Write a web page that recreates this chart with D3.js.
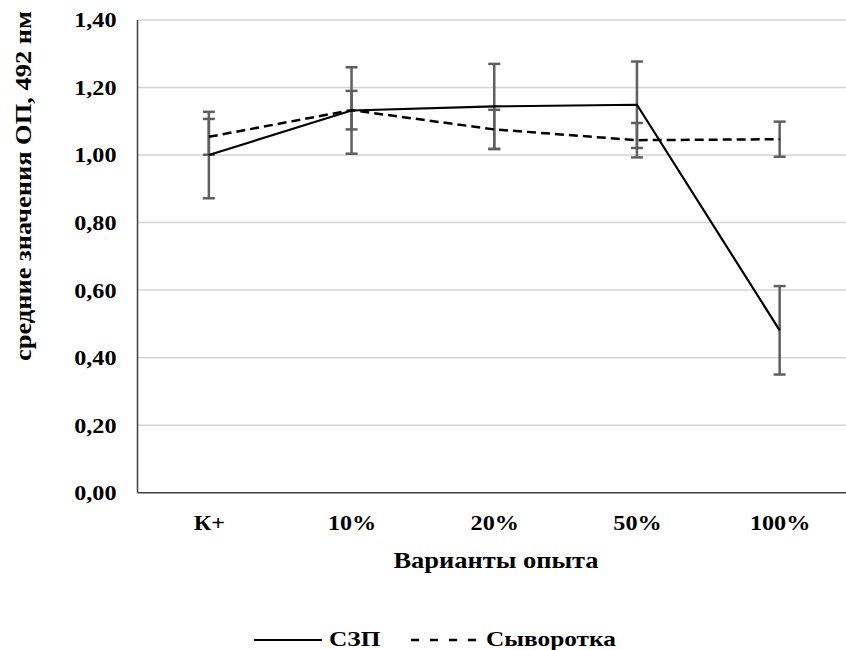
<!DOCTYPE html>
<html>
<head>
<meta charset="utf-8">
<script src="https://cdn.jsdelivr.net/npm/d3@7"></script>
<style>
  body { margin: 0; background: #fff; }
  text { font-family: "Times New Roman", "Liberation Serif", serif; font-weight: bold; fill: #000; }
</style>
</head>
<body>
<script>
var categories = ['К+', '10%', '20%', '50%', '100%'];
var szpValues = [1.000, 1.132, 1.144, 1.149, 0.481];
var szpErrors = [0.128, 0.128, 0.126, 0.128, 0.131];
var serumValues = [1.054, 1.133, 1.076, 1.044, 1.047];
var serumErrors = [0.053, 0.057, 0.058, 0.051, 0.052];
var yTicks = [0, 0.2, 0.4, 0.6, 0.8, 1.0, 1.2, 1.4];

var canvasWidth = 846;
var canvasHeight = 650;
var plotLeft = 137.5, plotRight = 851, plotTop = 20, plotBottom = 492.7;
var stretch = 1.15; // the reference text is a bit wider than Liberation Serif

var svg = d3.select('body')
    .append('svg')
    .attr('width', canvasWidth)
    .attr('height', canvasHeight);

var xScale = d3.scalePoint()
    .domain(categories)
    .range([plotLeft, plotRight])
    .padding(0.5);

var yScale = d3.scaleLinear()
    .domain([0, 1.4])
    .range([plotBottom, plotTop]);

var fmt = function (d) { return d3.format('.2f')(d).replace('.', ','); };

// gridlines
svg.append('g')
    .selectAll('line')
    .data(yTicks.filter(function (d) { return d > 0; }))
    .enter()
    .append('line')
    .attr('x1', plotLeft)
    .attr('x2', canvasWidth)
    .attr('y1', function (d) { return yScale(d); })
    .attr('y2', function (d) { return yScale(d); })
    .attr('stroke', '#d4d4d4')
    .attr('stroke-width', 1.5);

// y axis labels
var yAxis = svg.append('g')
    .attr('transform', 'translate(' + (plotLeft - 21) + ',0)')
    .call(d3.axisLeft(yScale).tickValues(yTicks).tickFormat(fmt).tickSize(0).tickPadding(0));
yAxis.select('.domain').remove();
yAxis.selectAll('text')
    .attr('font-size', '21px')
    .attr('font-family', '"Times New Roman", "Liberation Serif", serif')
    .attr('fill', '#000')
    .attr('dy', '0.33em');

// x axis labels
var xAxis = svg.append('g')
    .attr('transform', 'translate(0,' + plotBottom + ')')
    .call(d3.axisBottom(xScale).tickSize(0).tickPadding(0));
xAxis.select('.domain').remove();
xAxis.selectAll('text')
    .attr('font-size', '21px')
    .attr('font-family', '"Times New Roman", "Liberation Serif", serif')
    .attr('fill', '#000')
    .attr('dy', null)
    .attr('y', 37);

// axis lines
svg.append('line')
    .attr('x1', plotLeft).attr('x2', plotLeft)
    .attr('y1', plotTop).attr('y2', plotBottom)
    .attr('stroke', '#404040').attr('stroke-width', 1.5);
svg.append('line')
    .attr('x1', plotLeft).attr('x2', canvasWidth)
    .attr('y1', plotBottom).attr('y2', plotBottom)
    .attr('stroke', '#404040').attr('stroke-width', 1.5);

// error bars
function errorBars(values, errors) {
    var g = svg.append('g').attr('stroke', '#5f5f5f').attr('stroke-width', 2.5);
    categories.forEach(function (c, i) {
        var x = xScale(c);
        var y1 = yScale(values[i] + errors[i]);
        var y2 = yScale(values[i] - errors[i]);
        g.append('line').attr('x1', x).attr('x2', x).attr('y1', y1).attr('y2', y2);
        g.append('line').attr('x1', x - 6).attr('x2', x + 6).attr('y1', y1).attr('y2', y1);
        g.append('line').attr('x1', x - 6).attr('x2', x + 6).attr('y1', y2).attr('y2', y2);
    });
}
errorBars(szpValues, szpErrors);
errorBars(serumValues, serumErrors);

var line = d3.line()
    .x(function (d, i) { return xScale(categories[i]); })
    .y(function (d) { return yScale(d); });

svg.append('path')
    .datum(serumValues)
    .attr('fill', 'none')
    .attr('stroke', '#000')
    .attr('stroke-width', 2.5)
    .attr('stroke-dasharray', '9,5')
    .attr('d', line);

svg.append('path')
    .datum(szpValues)
    .attr('fill', 'none')
    .attr('stroke', '#000')
    .attr('stroke-width', 2.2)
    .attr('d', line);

// axis titles
svg.append('text')
    .attr('x', 496)
    .attr('y', 568)
    .attr('text-anchor', 'middle')
    .attr('font-size', '23px')
    .text('Варианты опыта');

svg.append('text')
    .attr('transform', 'translate(31,186) rotate(-90)')
    .attr('text-anchor', 'middle')
    .attr('font-size', '23px')
    .text('средние значения ОП, 492 нм');

// legend
var legend = svg.append('g');
legend.append('line')
    .attr('x1', 254).attr('x2', 322)
    .attr('y1', 640).attr('y2', 640)
    .attr('stroke', '#000').attr('stroke-width', 2.2);
legend.append('text')
    .attr('x', 329).attr('y', 646)
    .attr('font-size', '22px')
    .text('СЗП');
legend.append('line')
    .attr('x1', 411).attr('x2', 476)
    .attr('y1', 640).attr('y2', 640)
    .attr('stroke', '#000').attr('stroke-width', 2.5)
    .attr('stroke-dasharray', '8,11');
legend.append('text')
    .attr('x', 486).attr('y', 646)
    .attr('font-size', '22px')
    .text('Сыворотка');

// widen every label a little to match the reference glyph proportions
svg.selectAll('text').each(function () {
    var len = this.getComputedTextLength();
    d3.select(this)
        .attr('textLength', len * stretch)
        .attr('lengthAdjust', 'spacingAndGlyphs');
});
</script>
</body>
</html>
